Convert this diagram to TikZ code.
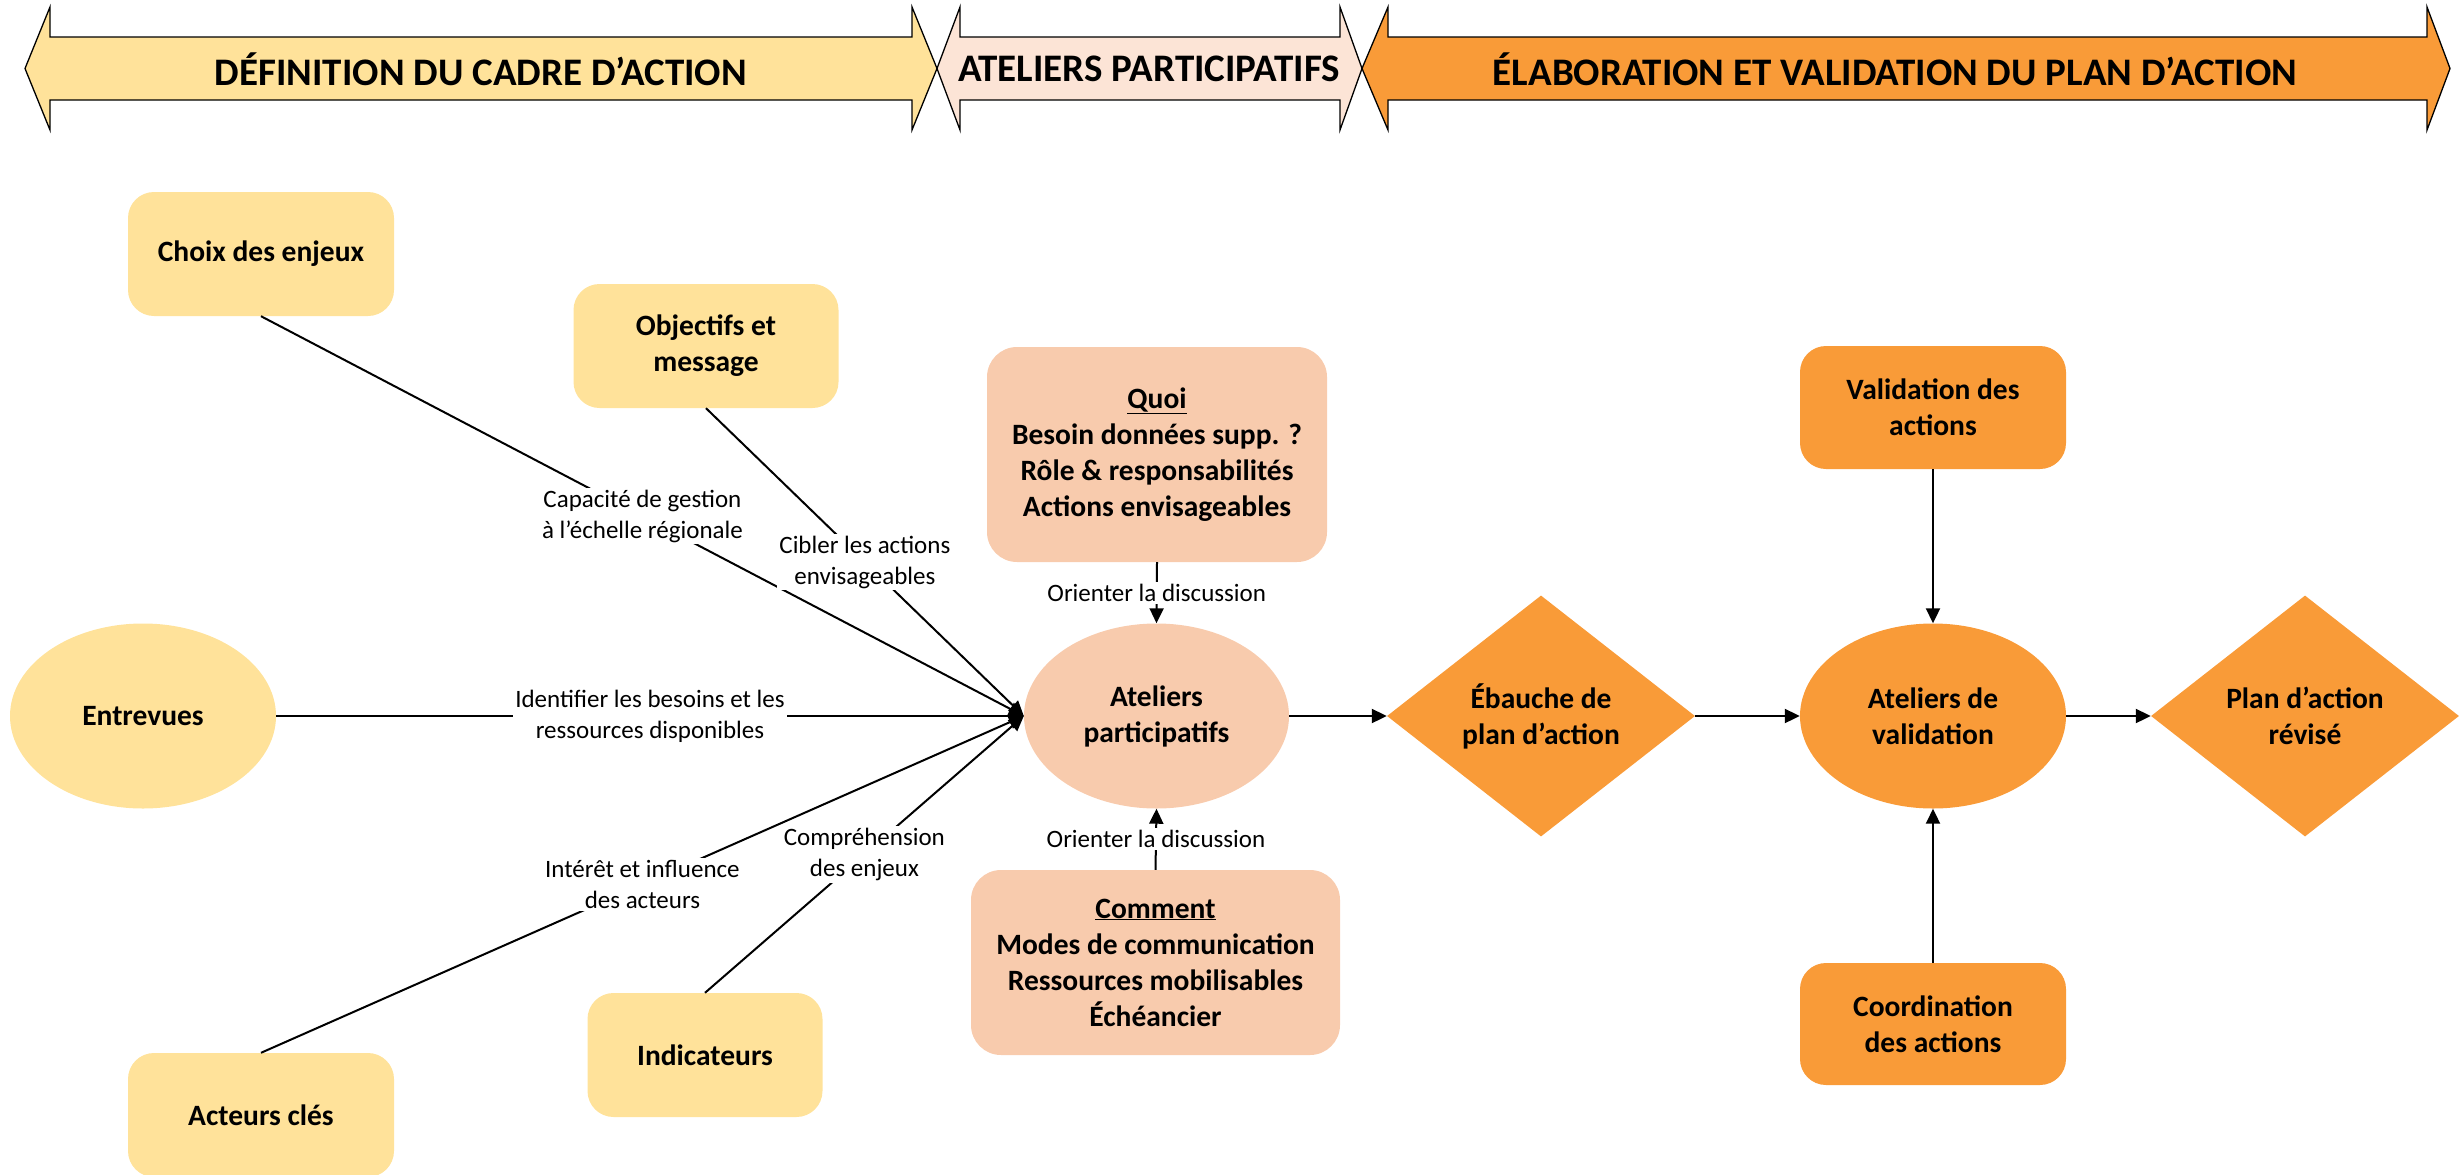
\documentclass[tikz,border=0pt]{standalone}
\usepackage{fontspec}
\setmainfont{Carlito}
\usetikzlibrary{shapes.geometric,arrows.meta}
\definecolor{cyel}{HTML}{FFE29A}
\definecolor{cpink}{HTML}{F8CBAD}
\definecolor{cpinkl}{HTML}{FCE4D6}
\definecolor{corange}{HTML}{F99B38}
\tikzset{
  nodetxt/.style={font=\fontsize{29.5}{36}\selectfont\bfseries, align=center, inner sep=0pt},
  boxnode/.style={nodetxt, rounded corners=26pt, draw=none},
  ellnode/.style={nodetxt, ellipse, minimum width=266pt, minimum height=185pt},
  dianode/.style={nodetxt, diamond, minimum width=308pt, minimum height=241pt, fill=corange},
  link/.style={line width=2pt, draw=black},
  arr/.style={link, -{Triangle[length=15pt,width=14pt]}},
  lbl/.style={font=\fontsize{25}{31}\selectfont, align=center, fill=white, inner sep=2pt},
  banner/.style={draw=black, line width=1.3pt, line join=miter},
  bantxt/.style={font=\fontsize{39}{46}\selectfont\bfseries, inner sep=0pt}
}
\begin{document}
\begin{tikzpicture}[x=1pt,y=-1pt]
\useasboundingbox (0,0) rectangle (2463,1175);
% banners
\draw[banner, fill=cyel] (25,68.5) -- (50,7) -- (50,37) -- (912,37) -- (912,7) -- (937,68.5) -- (912,130) -- (912,100) -- (50,100) -- (50,130) -- cycle;
\draw[banner, fill=cpinkl] (937,68.5) -- (960,7) -- (960,37) -- (1340,37) -- (1340,7) -- (1362,68.5) -- (1340,130) -- (1340,100) -- (960,100) -- (960,130) -- cycle;
\draw[banner, fill=corange] (1362,68.5) -- (1388,7) -- (1388,37) -- (2427,37) -- (2427,7) -- (2450,68.5) -- (2427,130) -- (2427,100) -- (1388,100) -- (1388,130) -- cycle;
\node[bantxt] (b1) at (481,69) {DÉFINITION DU CADRE D’ACTION};
\node[bantxt] (b2) at (1149,69) {ATELIERS PARTICIPATIFS};
\node[bantxt] (b3) at (1895,69) {ÉLABORATION ET VALIDATION DU PLAN D’ACTION};
% left nodes
\node[boxnode, fill=cyel, minimum width=266pt, minimum height=124pt] (choix) at (261,254) {Choix des enjeux};
\node[boxnode, fill=cyel, minimum width=265pt, minimum height=124pt] (obj) at (706,346) {Objectifs et\\message};
\node[nodetxt, ellipse, fill=cyel, minimum width=266pt, minimum height=185pt] (entr) at (143,716) {Entrevues};
\node[boxnode, fill=cyel, minimum width=235pt, minimum height=124pt] (ind) at (705,1055) {Indicateurs};
\node[boxnode, fill=cyel, minimum width=266pt, minimum height=124pt] (act) at (261,1115) {Acteurs clés};
% middle nodes
\node[ellnode, fill=cpink, minimum width=265pt] (atp) at (1156.5,716) {Ateliers\\participatifs};
\node[boxnode, fill=cpink, rounded corners=30pt, minimum width=340pt, minimum height=215pt] (quoi) at (1157,454.5) {\underline{Quoi}\\Besoin données supp. ?\\Rôle \& responsabilités\\Actions envisageables};
\node[boxnode, fill=cpink, rounded corners=30pt, minimum width=369pt, minimum height=185pt] (comm) at (1155.5,962.5) {\underline{Comment}\\Modes de communication\\Ressources mobilisables\\Échéancier};
\node[dianode] (eba) at (1541,716) {Ébauche de\\plan d’action};
% right nodes
\node[ellnode, fill=corange] (atv) at (1933,716) {Ateliers de\\validation};
\node[boxnode, fill=corange, minimum width=266pt, minimum height=123pt] (val) at (1933,407.5) {Validation des\\actions};
\node[boxnode, fill=corange, minimum width=266pt, minimum height=122pt] (coo) at (1933,1024) {Coordination\\des actions};
\node[dianode] (plan) at (2305,716) {Plan d’action\\révisé};
% connectors into Ateliers participatifs
\draw[arr] (choix.south) -- node[lbl, pos=0.5] {Capacité de gestion\\à l’échelle régionale} (atp.west);
\draw[arr] (obj.south) -- node[lbl, pos=0.5] {Cibler les actions\\envisageables} (atp.west);
\draw[arr] (entr.east) -- node[lbl, pos=0.5] {Identifier les besoins et les\\ressources disponibles} (atp.west);
\draw[arr] (act.north) -- node[lbl, pos=0.5] {Intérêt et influence\\des acteurs} (atp.west);
\draw[arr] (ind.north) -- node[lbl, pos=0.5] {Compréhension\\des enjeux} (atp.west);
\draw[arr] (quoi.south) -- node[lbl, pos=0.5] {Orienter la discussion} (atp.north);
\draw[arr] (comm.north) -- node[lbl, pos=0.5] {Orienter la discussion} (atp.south);
% flow
\draw[arr] (atp.east) -- (eba.west);
\draw[arr] (eba.east) -- (atv.west);
\draw[arr] (atv.east) -- (plan.west);
\draw[arr] (val.south) -- (atv.north);
\draw[arr] (coo.north) -- (atv.south);
\end{tikzpicture}
\end{document}
